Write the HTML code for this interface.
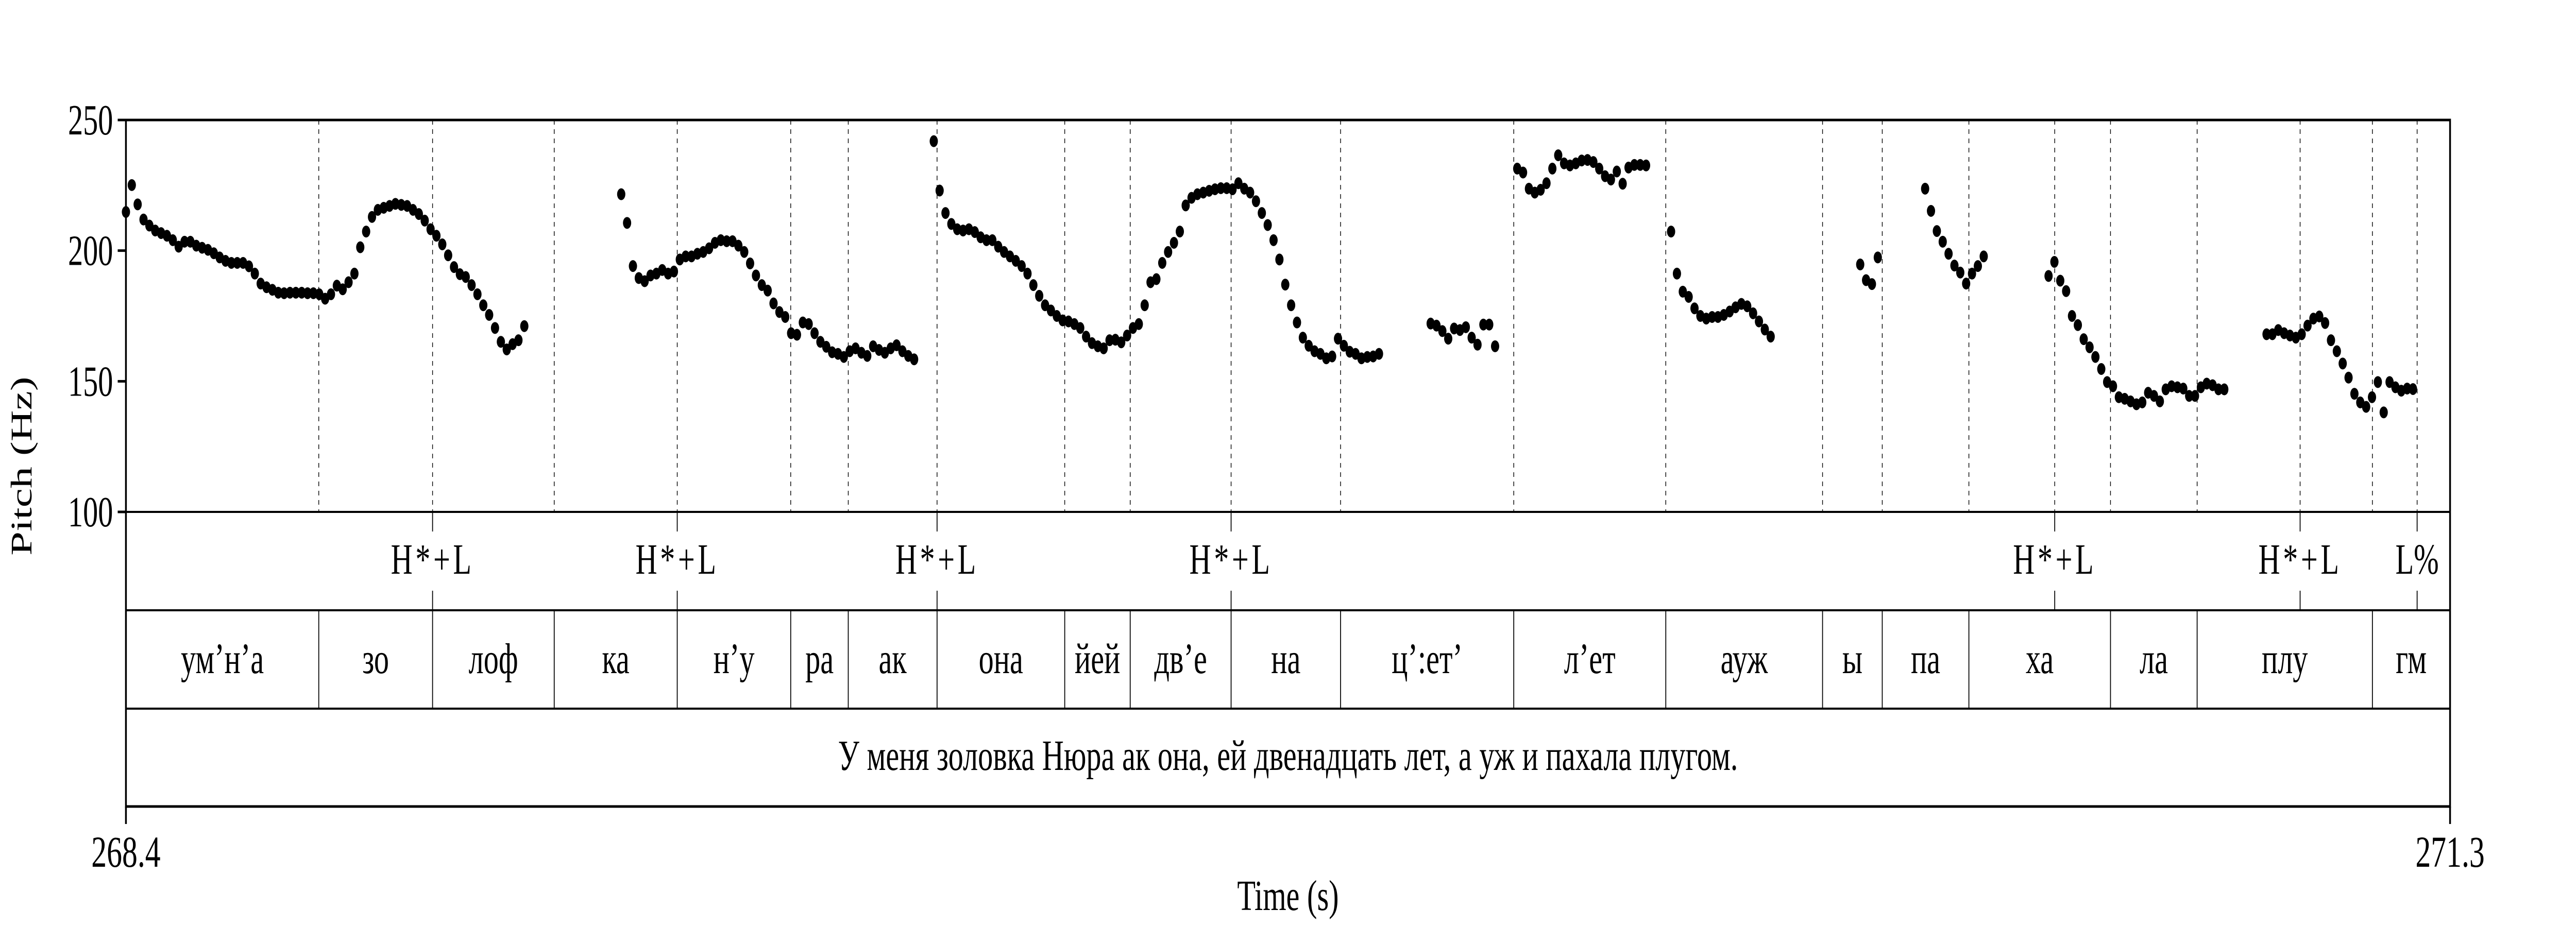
<!DOCTYPE html>
<html><head><meta charset="utf-8"><style>
html,body{margin:0;padding:0;background:#fff;width:100%;height:100%;overflow:hidden;}
svg{display:block;width:100vw;height:100vh;}
text{font-family:"Liberation Serif",serif;fill:#000;}
</style></head><body>
<svg id="chart" viewBox="0 0 7200 1800" preserveAspectRatio="none" xmlns="http://www.w3.org/2000/svg"></svg>
<script>
// ---- data ----
const tStart = 268.4, tEnd = 271.3;
const hzMin = 100, hzMax = 250;
const yTicks = [100, 150, 200, 250];
const xTickLabels = ["268.4", "271.3"];
const sampleStep = 0.00731;
const runStarts = [268.400, 269.018, 269.408, 270.028, 270.136, 270.328, 270.564, 270.645, 270.799, 271.071];
const run1 = [214.8,225.1,217.7,211.9,209.6,207.7,206.7,205.7,204,201.5,203.4,203.4,201.9,201.1,200.3,199,197.4,196.1,195.3,195.3,195.3,194,191.2,187.4,186,185,183.9,183.7,183.9,183.9,183.9,183.7,183.7,183.3,181.6,183.3,186.6,185.2,187.9,191.2,201.3,207.3,212.9,215.6,216.4,217.1,217.9,217.5,217.1,215.6,214,211.5,208.2,205.7,202.4,198.2,193.7,191,189.9,186.8,183.3,179.1,175.4,170.4,165.1,162.2,164.2,165.7,171.1];
const run2 = [221.6,210.6,194.1,189.5,188.3,190.5,191.2,192.6,191.2,192,196.6,197.8,197.8,198.8,199.5,200.9,203,204,203.6,203.6,201.9,199.5,195.1,190.5,186.8,184.7,179.8,176.5,174.6,168.4,167.8,172.5,171.9,168.4,165.1,163.2,161.1,160.5,159.3,161.5,162.6,160.9,159.7,163.4,162,160.9,162.6,163.8,161.5,159.7,158.4];
const run3 = [241.9,223,214.4,210.2,208.2,207.7,208.2,207.1,205.1,204,204,201.5,199.5,197.8,196.1,194.1,191.2,186.8,182.7,179.1,177.1,175,173.3,172.9,171.9,170.4,167.1,164.6,163.4,162.6,165.7,165.9,164.9,167.5,170.4,171.9,179.1,187.9,189.1,195.3,199.5,203,207.3,217.3,220.2,221.6,222.2,222.9,223.5,223.9,223.9,223.5,225.8,223.7,222.2,218.9,214.4,209.8,204,196.6,187,179.1,172.5,166.7,163.6,161.5,160.5,158.8,159.5,166.3,163.6,161.3,160.5,158.8,159.3,159.5,160.5];
const run4 = [172.1,171.3,169.2,166.3,170.2,169.6,170.7,166.7,164,171.7,171.7,163.4];
const run5 = [231.4,229.9,223.7,222.2,223.3,225.8,231.4,236.5,233.4,232.6,233.4,234.5,234.7,233.9,231.4,228.5,227.2,230.3,225.6,231.8,232.8,232.8,232.6];
const run6 = [207.3,191.2,184.3,182.3,177.9,175,174,174.6,174.6,175.4,176.7,178.3,179.6,178.7,176,172.9,169.8,167.1];
const run7 = [194.7,188.7,187.2,197.4];
const run8 = [223.7,215.2,207.5,203.4,198.8,194.3,191.6,187.4,191.2,194.1,197.8];
const run9 = [190.3,195.7,188.5,184.5,175,171.5,166.1,163,159.3,154.7,149.7,148.1,143.9,143.3,142.3,141.2,141.9,145.6,144.4,142.3,146.9,148.1,147.7,147.2,144.4,144.4,147.7,149.1,148.5,146.9,146.9];
const run10 = [168,168,169.6,168.4,167.5,166.7,168,171.3,174,174.8,172.3,165.7,161.5,156.8,151.4,145.2,141.9,140.2,143.9,149.7,138.1,149.7,147.7,146.4,147.2,147];
const pitchRuns = [run1,run2,run3,run4,run5,run6,run7,run8,run9,run10];
const toneTimes = [268.7826, 269.0879, 269.4121, 269.7790, 270.8067, 271.1129, 271.2589];
const toneLabels = ["H*+L","H*+L","H*+L","H*+L","H*+L","H*+L","L%"];
const wordBounds = [268.6406,268.7826,268.9344,269.0879,269.2295,269.3013,269.4121,269.5714,269.6531,269.7790,269.9156,270.1317,270.3214,270.5170,270.5915,270.6996,270.8763,270.9844,271.2031];
const words = ["ум’н’а","зо","лоф","ка","н’у","ра","ак","она","йей","дв’е","на","ц’:ет’","л’ет","ауж","ы","па","ха","ла","плу","гм"];
const sentence = "У меня золовка Нюра ак она, ей двенадцать лет, а уж и пахала плугом.";

// ---- layout ----
const L = 352, R = 6848, T = 233, B100 = 994, TONE_B = 1185, WORD_B = 1376, BOT = 1566;
const X = t => L + (t - tStart) / (tEnd - tStart) * (R - L);
const Y = h => B100 - (h - hzMin) / (hzMax - hzMin) * (B100 - T);
const NS = "http://www.w3.org/2000/svg";
const svg = document.getElementById('chart');
function el(tag, attrs, parent) {
  const e = document.createElementNS(NS, tag);
  for (const k in attrs) e.setAttribute(k, attrs[k]);
  (parent || svg).appendChild(e);
  return e;
}

const allBounds = Array.from(new Set(wordBounds.concat(toneTimes))).sort((a,b)=>a-b);
allBounds.forEach(t => {
  const d = el('line', {x1:X(t), x2:X(t), y1:T, y2:B100, stroke:'#000', 'stroke-width':2, 'stroke-dasharray':'9 9'});
  
  
});

pitchRuns.forEach((run, ri) => {
  run.forEach((hz, i) => {
    const t = runStarts[ri] + i * sampleStep;
    const c = el('circle', {cx:X(t), cy:Y(hz), r:11.5, fill:'#000'});
    
    
  });
});

yTicks.forEach(v => {
  const tk = el('line', {x1:329, x2:L, y1:Y(v), y2:Y(v), stroke:'#000', 'stroke-width':5});
  
  
  const tx = el('text', {x:316, y:Y(v)+28, 'font-size':84, 'text-anchor':'end'});
  tx.textContent = String(v);
  
  
});

[B100, TONE_B, WORD_B].forEach(y => {
  const ln = el('line', {x1:L, x2:R, y1:y, y2:y, stroke:'#000', 'stroke-width':4});
  
  
});

toneTimes.forEach((t, i) => {
  const a = el('line', {x1:X(t), x2:X(t), y1:B100, y2:B100+38, stroke:'#000', 'stroke-width':2.5});
  
  
  const b = el('line', {x1:X(t), x2:X(t), y1:TONE_B-38, y2:TONE_B, stroke:'#000', 'stroke-width':2.5});
  
  
  const tx = el('text', {x:X(t), y:1114, 'font-size':84, 'text-anchor':'middle', 'letter-spacing':toneLabels[i].length > 2 ? 8 : 0});
  tx.textContent = toneLabels[i];
  
  
});

wordBounds.forEach(t => {
  const ln = el('line', {x1:X(t), x2:X(t), y1:TONE_B, y2:WORD_B, stroke:'#000', 'stroke-width':2.5});
  
  
});
const edges = [tStart].concat(wordBounds, [tEnd]);
words.forEach((w, i) => {
  const tx = el('text', {x:(X(edges[i])+X(edges[i+1]))/2, y:1307, 'font-size':84, 'text-anchor':'middle'});
  tx.textContent = w;
  
  
});

const st = el('text', {x:(L+R)/2, y:1495, 'font-size':84, 'text-anchor':'middle'});
st.textContent = sentence;



const fr = el('rect', {x:L, y:T, width:R-L, height:BOT-T, fill:'none', stroke:'#000', 'stroke-width':5});



[tStart, tEnd].forEach((t, i) => {
  const tk = el('line', {x1:X(t), x2:X(t), y1:BOT, y2:1600, stroke:'#000', 'stroke-width':5});
  
  
  const tx = el('text', {x:X(t), y:1683, 'font-size':86, 'text-anchor':'middle'});
  tx.textContent = xTickLabels[i];
  
  
});

const xt = el('text', {x:(L+R)/2, y:1767, 'font-size':84, 'text-anchor':'middle'});
xt.textContent = 'Time (s)';


const yt = el('text', {x:0, y:0, 'font-size':84, 'text-anchor':'middle', transform:'translate(88,905) rotate(-90)'});
yt.textContent = 'Pitch (Hz)';


</script>
</body></html>
